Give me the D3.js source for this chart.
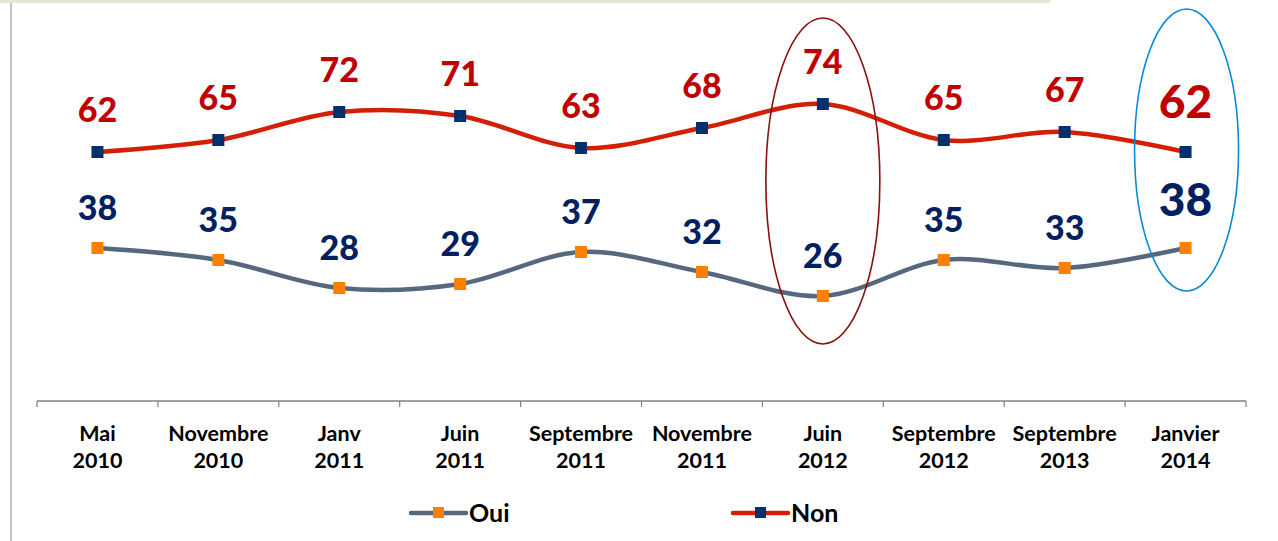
<!DOCTYPE html>
<html><head><meta charset="utf-8">
<script src="https://cdn.jsdelivr.net/npm/d3@7"></script>
<style>body{margin:0;background:#fff;}svg{display:block;}</style>
</head><body>
<svg id="c" width="1278" height="541"></svg>
<script>
const categories = [["Mai","2010"],["Novembre","2010"],["Janv","2011"],["Juin","2011"],["Septembre","2011"],["Novembre","2011"],["Juin","2012"],["Septembre","2012"],["Septembre","2013"],["Janvier","2014"]];
const oui = [38,35,28,29,37,32,26,35,33,38];
const non = [62,65,72,71,63,68,74,65,67,62];
const seriesNames = ["Oui","Non"];

const svg = d3.select("#c");
const font = "Lato, 'Open Sans', sans-serif";

// top band and left rule
svg.append("path").attr("d","M0,0 H1052 V-6 Q1052,3 1043,3 H0 Z").attr("fill","#e8e4d8");
svg.append("rect").attr("x",0).attr("y",0).attr("width",1050).attr("height",3).attr("fill","#e8e4d8");
svg.append("line").attr("x1",11).attr("x2",11).attr("y1",3).attr("y2",541).attr("stroke","#c4c4c4").attr("stroke-width",2);

const idx = d3.range(categories.length);
const x = d3.scaleBand().domain(idx).range([37,1246]);
const cx = i => x(i) + x.bandwidth()/2;
const y = d3.scaleLinear().domain([0,100]).range([400,0]);

// axis
svg.append("line").attr("x1",37).attr("x2",1246).attr("y1",401).attr("y2",401).attr("stroke","#808080").attr("stroke-width",1.5);
const ticks = d3.range(categories.length+1).map(i => i<categories.length ? x(i) : x(categories.length-1)+x.bandwidth());
svg.selectAll(".tk").data(ticks).join("line").attr("x1",d=>d).attr("x2",d=>d).attr("y1",401).attr("y2",407).attr("stroke","#808080").attr("stroke-width",1.2);
const lab = svg.selectAll(".cat").data(categories).join("text")
  .attr("x",(d,i)=>cx(i)).attr("text-anchor","middle")
  .attr("font-family",font).attr("font-weight","bold").attr("font-size",21.5).attr("fill","#000");
lab.append("tspan").attr("x",(d,i)=>cx(i)).attr("y",441).text(d=>d[0]);
lab.append("tspan").attr("x",(d,i)=>cx(i)).attr("y",468).text(d=>d[1]);

const line = d3.line().x((d,i)=>cx(i)).y(d=>y(d)).curve(d3.curveCardinal.tension(0));

function series(vals, lineColor, markColor, labColor, dy){
  svg.append("path").datum(vals).attr("d",line).attr("fill","none").attr("stroke",lineColor).attr("stroke-width",4.5);
  svg.selectAll(null).data(vals).join("rect")
    .attr("x",(d,i)=>cx(i)-6).attr("y",d=>y(d)-6).attr("width",12).attr("height",12).attr("fill",markColor);
  svg.selectAll(null).data(vals).join("text")
    .attr("x",(d,i)=>cx(i)).attr("y",(d,i)=>y(d)+(i===vals.length-1?dy-4:dy))
    .attr("text-anchor","middle").attr("font-family",font).attr("font-weight",900)
    .attr("font-size",(d,i)=>i===vals.length-1?46:34).attr("fill",labColor).text(d=>d);
}
series(oui,"#56687e","#ff7f00","#002060",-28);
series(non,"#d21f05","#00306e","#c00000",-30);

// ellipses
svg.append("ellipse").attr("cx",cx(6)).attr("cy",181).attr("rx",57).attr("ry",163).attr("fill","none").attr("stroke","#8b0f0f").attr("stroke-width",1.6);
svg.append("ellipse").attr("cx",cx(9)+1).attr("cy",150).attr("rx",52).attr("ry",141).attr("fill","none").attr("stroke","#0a8ad4").attr("stroke-width",1.6);

// legend
const leg = [{name:seriesNames[0],line:"#56687e",mark:"#ff7f00",x:411},{name:seriesNames[1],line:"#d21f05",mark:"#00306e",x:733}];
leg.forEach(l=>{
  svg.append("line").attr("x1",l.x).attr("x2",l.x+55).attr("y1",513).attr("y2",513).attr("stroke",l.line).attr("stroke-width",4.5).attr("stroke-linecap","round");
  svg.append("rect").attr("x",l.x+22).attr("y",507).attr("width",11).attr("height",11).attr("fill",l.mark);
  svg.append("text").attr("x",l.x+58).attr("y",522).attr("font-family",font).attr("font-weight","bold").attr("font-size",25).attr("fill","#000").text(l.name);
});
</script>
</body></html>
